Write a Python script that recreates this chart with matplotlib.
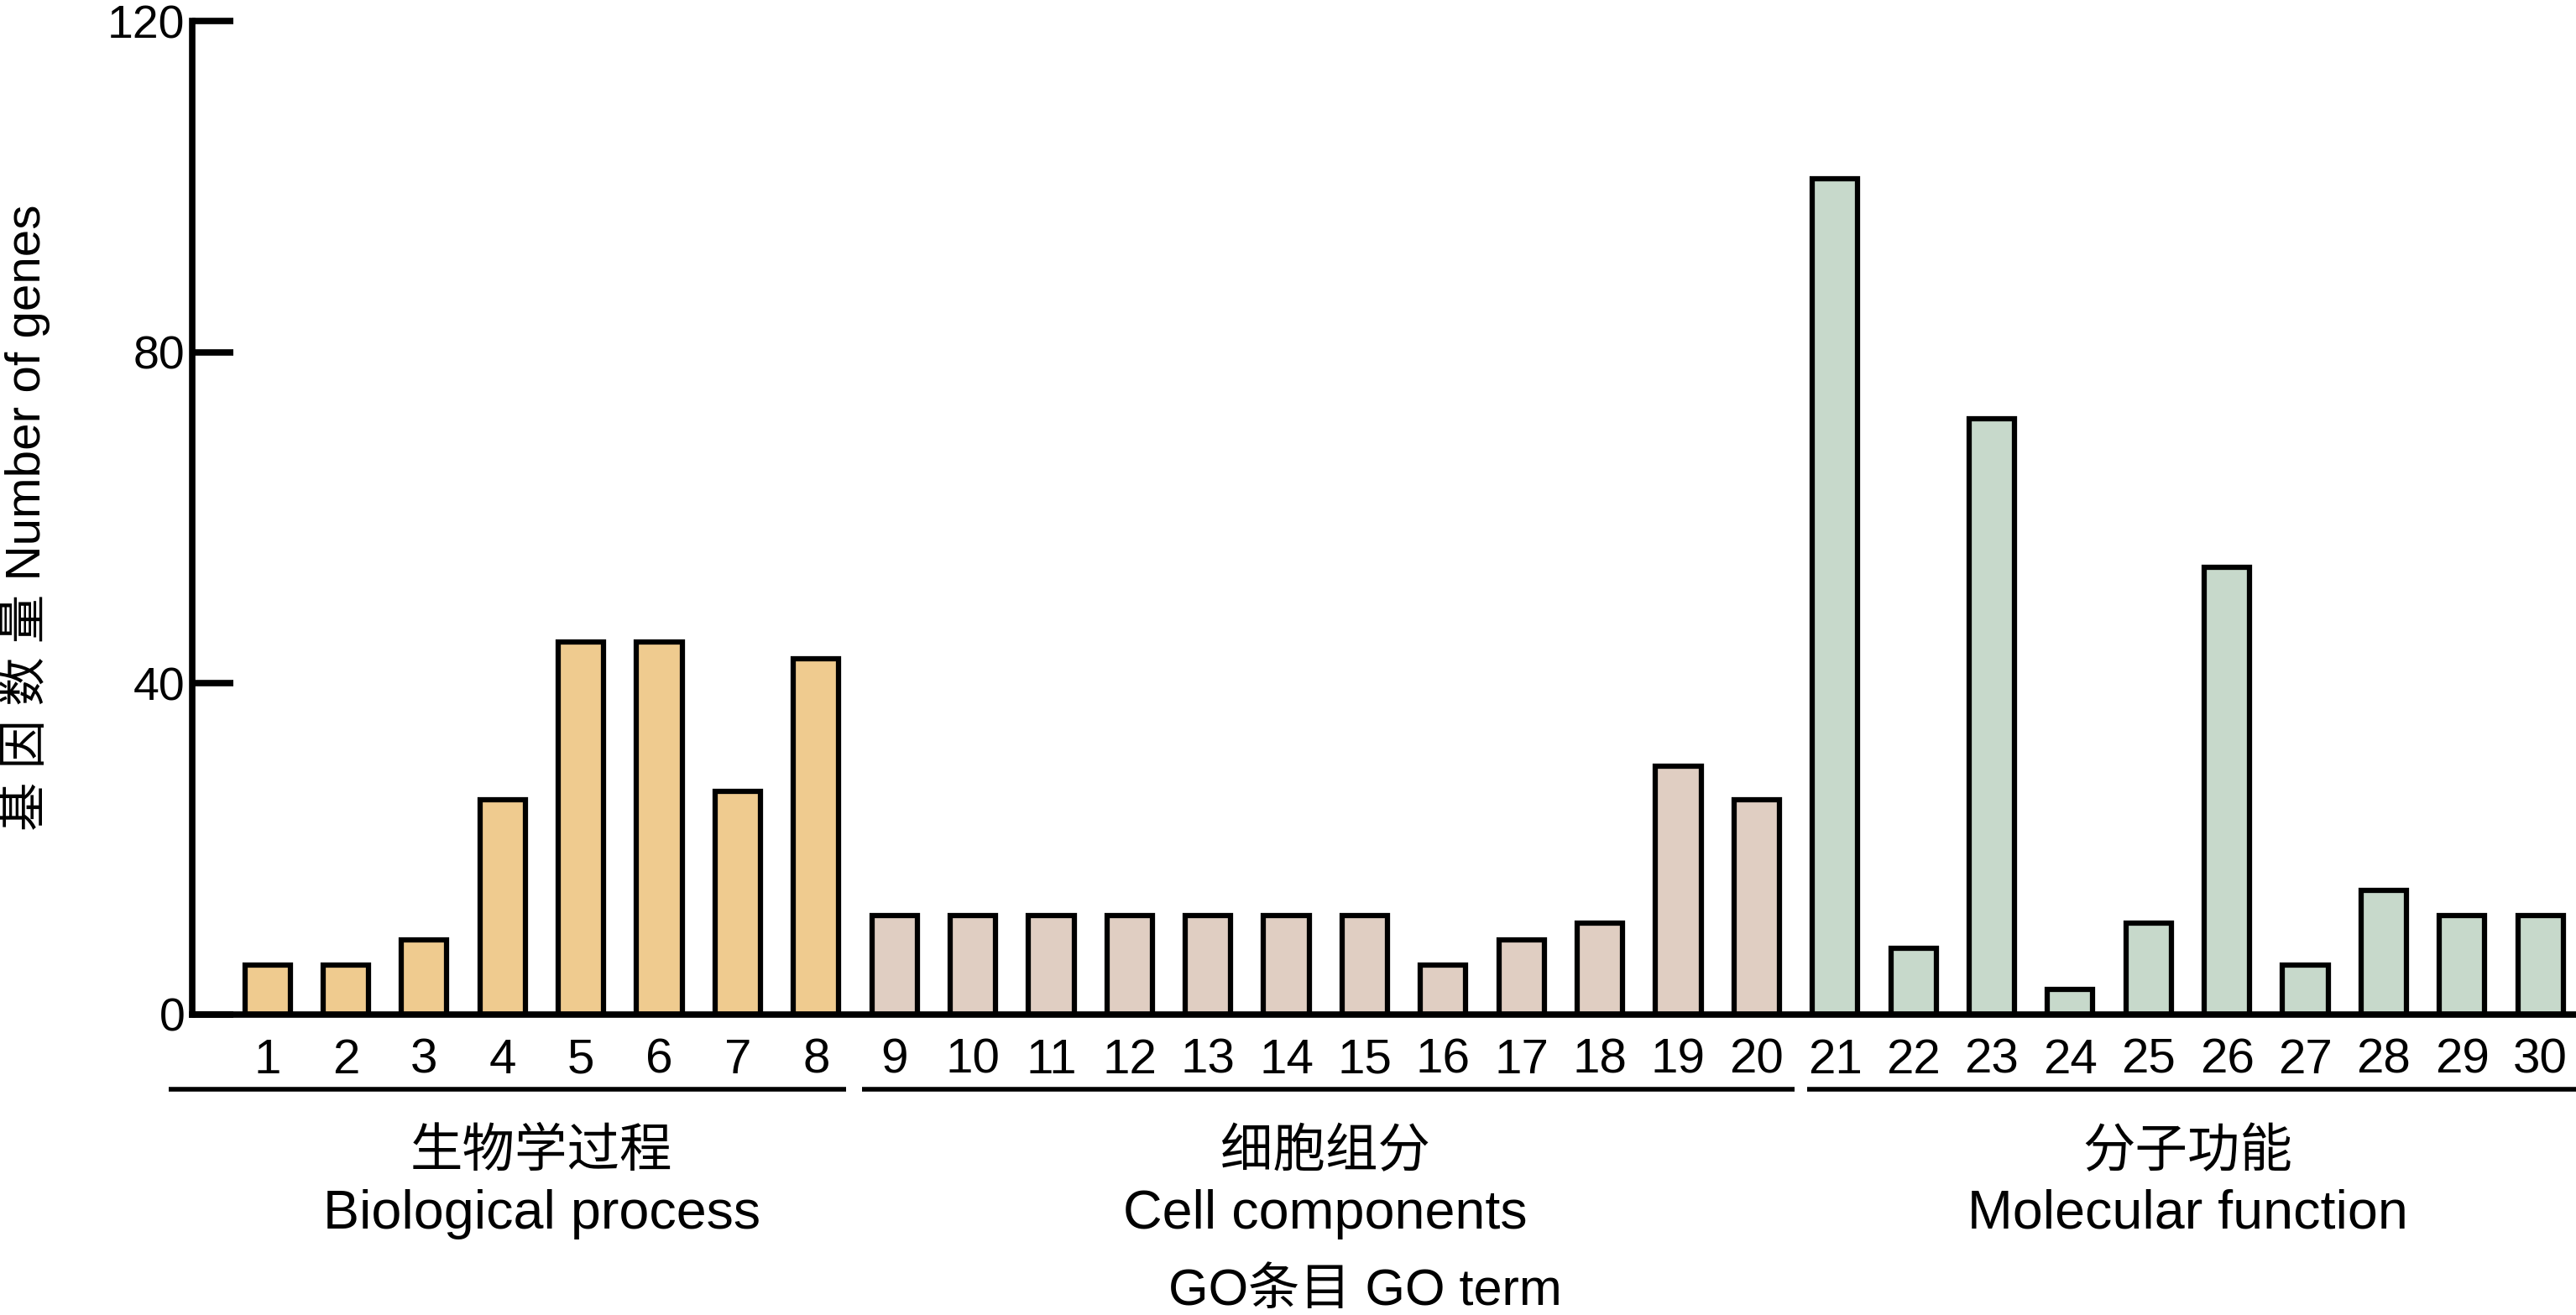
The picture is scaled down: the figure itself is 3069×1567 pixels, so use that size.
#! /usr/bin/env python3
import numpy as np
import matplotlib
matplotlib.use('Agg')
import matplotlib.pyplot as plt
import matplotlib.transforms as mtransforms

plt.rcParams['font.family'] = ['Liberation Sans', 'Noto Sans CJK SC', 'DejaVu Sans']

# GO term numbers and gene counts
terms = list(range(1, 31))
counts = [6, 6, 9, 26, 45, 45, 27, 43,
          12, 12, 12, 12, 12, 12, 12, 6, 9, 11, 30, 26,
          101, 8, 72, 3, 11, 54, 6, 15, 12, 12]

groups_cn = ['生物学过程', '细胞组分', '分子功能']
groups_en = ['Biological process', 'Cell components', 'Molecular function']
group_ranges = [(1, 8), (9, 20), (21, 30)]
group_colors = ['#EFCB8F', '#E0CEC2', '#C7D9CB']

yticks = [0, 40, 80, 120]

W, H = 3069, 1567
fig = plt.figure(figsize=(W / 100, H / 100), dpi=100)
ax = fig.add_axes([0.0746, 0.2285, 0.999 - 0.0746, 0.9838 - 0.2285])

colors = []
for (a, b), c in zip(group_ranges, group_colors):
    colors += [c] * (b - a + 1)

ax.bar(terms, counts, width=0.58, color=colors, edgecolor='black', linewidth=4.5, zorder=2)

ax.set_xlim(0.04, 30.42)
ax.set_ylim(0, 120)
ax.set_yticks(yticks)
ax.set_xticks(terms)
ax.set_xticklabels([str(t) for t in terms], fontsize=42)
ax.set_yticklabels([str(t) for t in yticks], fontsize=40,
                   family=['Liberation Sans Narrow', 'Liberation Sans'])

for s in ['top', 'right']:
    ax.spines[s].set_visible(False)
for s in ['left', 'bottom']:
    ax.spines[s].set_linewidth(5.5)
ax.spines['bottom'].set_zorder(3)

ax.tick_params(axis='y', direction='in', length=35, width=5.5, pad=6)
ax.tick_params(axis='x', length=0, pad=20)

# group underline and labels below the axis
trans = mtransforms.blended_transform_factory(ax.transData, ax.transAxes)
bounds = [(-0.26, 8.38), (8.59, 20.48), (20.64, 30.45)]
for (a, b), (x0, x1), cn, en in zip(group_ranges, bounds, groups_cn, groups_en):
    ax.plot([x0, x1], [-0.075, -0.075], color='black', lw=4,
            transform=trans, clip_on=False, solid_capstyle='butt')
    mid = (a + b) / 2
    ax.text(mid, -0.139, cn, transform=trans, ha='center', va='center', fontsize=45)
    ax.text(mid, -0.201, en, transform=trans, ha='center', va='center', fontsize=46.5)

ax.text(15.0, -0.279, 'GO条目 GO term', transform=trans, ha='center', va='center', fontsize=44)

fig.text(0.0095, (0.2285 + 0.9838) / 2, '基 因 数 量 Number of genes',
         rotation=90, ha='center', va='center', fontsize=42)

fig.savefig('out.png', dpi=100)
